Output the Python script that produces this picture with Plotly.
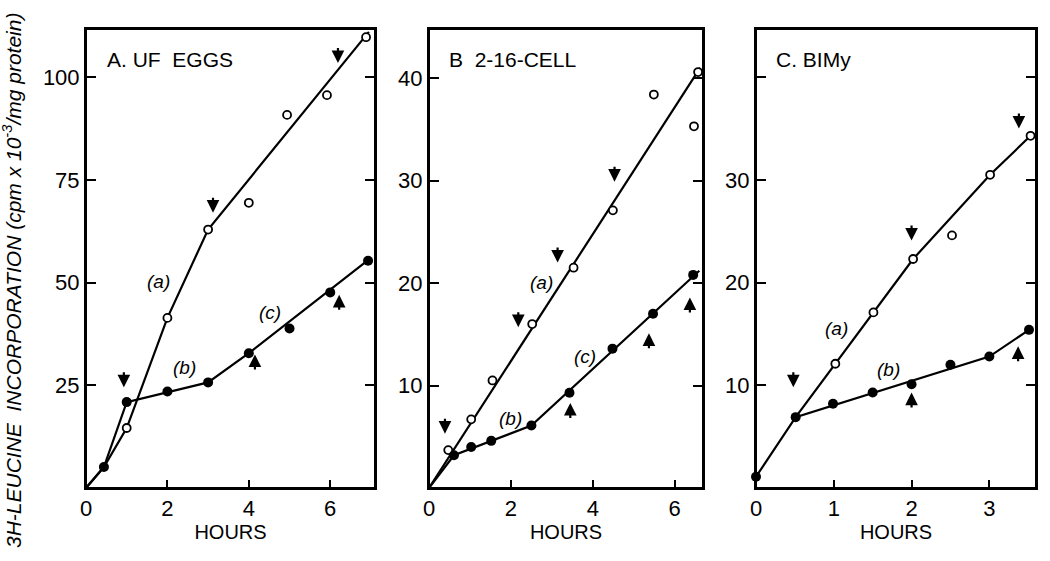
import plotly.graph_objects as go

# ---------------- Panel A: UF eggs ----------------
A_open_x = [1, 2, 3, 4, 4.94, 5.92, 6.88]
A_open_y = [14.6, 41.4, 62.9, 69.4, 90.8, 95.6, 109.7]
A_fill_x = [0.44, 1, 2, 3, 4, 5, 6, 6.93]
A_fill_y = [5.1, 20.9, 23.5, 25.7, 32.8, 38.8, 47.6, 55.3]
A_line_a_x = [0, 0.44, 1, 2, 3, 6.95]
A_line_a_y = [0, 5.1, 14.6, 41.4, 62.9, 111]
A_line_b_x = [0, 0.44, 1, 3, 4, 7.0]
A_line_b_y = [0, 5.1, 20.9, 25.7, 32.8, 56]
A_arrow_x = [0.93, 3.12, 6.19, 4.15, 6.22]
A_arrow_y = [24.5, 67.0, 103.4, 32.5, 47.0]
A_arrow_dir = ["down", "down", "down", "up", "up"]
A_label_x = [1.77, 2.43, 4.52]
A_label_y = [50.2, 29.4, 42.7]
A_labels = ["(a)", "(b)", "(c)"]
A_xticks = [0, 2, 4, 6]
A_yticks = [25, 50, 75, 100]

# ---------------- Panel B: 2-16 cell ----------------
B_open_x = [0.47, 1.03, 1.55, 2.52, 3.53, 4.49, 5.49, 6.47, 6.57]
B_open_y = [3.7, 6.7, 10.5, 16.0, 21.5, 27.1, 38.4, 35.3, 40.6]
B_fill_x = [0.61, 1.03, 1.52, 2.5, 3.43, 4.48, 5.47, 6.45]
B_fill_y = [3.2, 4.0, 4.6, 6.1, 9.3, 13.6, 17.0, 20.8]
B_line_a_x = [0, 6.62]
B_line_a_y = [0, 41.0]
B_line_b_x = [0, 0.61, 2.5, 6.6]
B_line_b_y = [0, 3.2, 6.1, 21.2]
B_arrow_x = [0.39, 2.18, 3.14, 4.53, 3.45, 5.37, 6.37]
B_arrow_y = [5.3, 15.7, 22.0, 29.9, 8.3, 15.1, 18.6]
B_arrow_dir = ["down", "down", "down", "down", "up", "up", "up"]
B_label_x = [2.75, 2.0, 3.8]
B_label_y = [20.1, 6.8, 12.8]
B_labels = ["(a)", "(b)", "(c)"]
B_xticks = [0, 2, 4, 6]
B_yticks = [10, 20, 30, 40]

# ---------------- Panel C: BIMy ----------------
C_open_x = [1.02, 1.51, 2.02, 2.52, 3.01, 3.53]
C_open_y = [12.1, 17.1, 22.3, 24.6, 30.5, 34.3]
C_fill_x = [0, 0.51, 0.99, 1.5, 2.0, 2.5, 3.0, 3.51]
C_fill_y = [1.1, 6.9, 8.2, 9.3, 10.1, 12.0, 12.8, 15.4]
C_line_a_x = [0.51, 1.02, 1.51, 2.02, 3.01, 3.53]
C_line_a_y = [6.9, 12.1, 17.1, 22.3, 30.5, 34.3]
C_line_b_x = [0, 0.51, 3.0, 3.51]
C_line_b_y = [1.1, 6.9, 12.8, 15.4]
C_arrow_x = [0.48, 2.0, 3.38, 2.0, 3.37]
C_arrow_y = [9.8, 24.1, 35.0, 9.3, 13.8]
C_arrow_dir = ["down", "down", "down", "up", "up"]
C_label_x = [1.04, 1.7]
C_label_y = [15.5, 11.5]
C_labels = ["(a)", "(b)"]
C_xticks = [0, 1, 2, 3]
C_yticks = [10, 20, 30, 40]
C_yticktext = ["10", "20", "30", ""]

panel_titles = ["A. UF  EGGS", "B  2-16-CELL", "C. BIMy"]
x_title = "HOURS"
y_title = "3H-LEUCINE  INCORPORATION (cpm x 10<sup>-3</sup>/mg protein)"

FONT = "Liberation Sans"
W, H = 1050, 561


def px_x(v):
    return v / W


def px_y(v):
    return 1 - v / H


panels = [
    dict(ox=A_open_x, oy=A_open_y, fx=A_fill_x, fy=A_fill_y,
         lax=A_line_a_x, lay=A_line_a_y, lbx=A_line_b_x, lby=A_line_b_y,
         arx=A_arrow_x, ary=A_arrow_y, ard=A_arrow_dir,
         lx=A_label_x, ly=A_label_y, lt=A_labels,
         xt=A_xticks, yt=A_yticks, ytt=[str(v) for v in A_yticks],
         xr=[0, 7.1], yr=[0, 111.7], dom=[px_x(86), px_x(375)]),
    dict(ox=B_open_x, oy=B_open_y, fx=B_fill_x, fy=B_fill_y,
         lax=B_line_a_x, lay=B_line_a_y, lbx=B_line_b_x, lby=B_line_b_y,
         arx=B_arrow_x, ary=B_arrow_y, ard=B_arrow_dir,
         lx=B_label_x, ly=B_label_y, lt=B_labels,
         xt=B_xticks, yt=B_yticks, ytt=[str(v) for v in B_yticks],
         xr=[0, 6.69], yr=[0, 44.8], dom=[px_x(429), px_x(703)]),
    dict(ox=C_open_x, oy=C_open_y, fx=C_fill_x, fy=C_fill_y,
         lax=C_line_a_x, lay=C_line_a_y, lbx=C_line_b_x, lby=C_line_b_y,
         arx=C_arrow_x, ary=C_arrow_y, ard=C_arrow_dir,
         lx=C_label_x, ly=C_label_y, lt=C_labels,
         xt=C_xticks, yt=C_yticks, ytt=C_yticktext,
         xr=[0, 3.6], yr=[0, 44.7], dom=[px_x(756), px_x(1036)]),
]

fig = go.Figure()
annotations = []
shapes = []
layout = {}
ydom = [px_y(488), px_y(29)]

for i, p in enumerate(panels):
    n = "" if i == 0 else str(i + 1)
    xa, ya = "x" + n, "y" + n
    # fit lines
    for lx_, ly_ in [(p["lax"], p["lay"]), (p["lbx"], p["lby"])]:
        fig.add_trace(go.Scatter(x=lx_, y=ly_, xaxis=xa, yaxis=ya, mode="lines",
                                 line=dict(color="black", width=2.2),
                                 showlegend=False, hoverinfo="skip"))
    # open circles
    fig.add_trace(go.Scatter(x=p["ox"], y=p["oy"], xaxis=xa, yaxis=ya, mode="markers",
                             marker=dict(symbol="circle", size=8, color="white",
                                         line=dict(color="black", width=1.8)),
                             showlegend=False, cliponaxis=False))
    # filled circles
    fig.add_trace(go.Scatter(x=p["fx"], y=p["fy"], xaxis=xa, yaxis=ya, mode="markers",
                             marker=dict(symbol="circle", size=10, color="black"),
                             showlegend=False, cliponaxis=False))
    layout["xaxis" + n] = dict(
        domain=p["dom"], range=p["xr"], anchor=ya, tickvals=p["xt"],
        ticks="inside", ticklen=8, tickwidth=2, tickcolor="black",
        showline=True, linecolor="black", linewidth=2, mirror=True,
        showgrid=False, zeroline=False, automargin=False,
        tickfont=dict(family=FONT, size=22, color="black"),
        title=dict(text=x_title, font=dict(family=FONT, size=20, color="black"), standoff=2),
    )
    layout["yaxis" + n] = dict(
        domain=ydom, range=p["yr"], anchor=xa, tickvals=p["yt"], ticktext=p["ytt"],
        ticks="inside", ticklen=10, tickwidth=2, tickcolor="black",
        showline=True, linecolor="black", linewidth=2, mirror="ticks",
        showgrid=False, zeroline=False, automargin=False,
        tickfont=dict(family=FONT, size=22, color="black"),
    )
    # panel frame
    shapes.append(dict(type="rect", xref=xa + " domain", yref=ya + " domain",
                       x0=0, x1=1, y0=0, y1=1, line=dict(color="black", width=2),
                       fillcolor="rgba(0,0,0,0)", layer="above"))
    # panel title
    annotations.append(dict(text=panel_titles[i], xref=xa + " domain", yref=ya + " domain",
                            x=0.066, y=0.933, xanchor="left", yanchor="middle", showarrow=False,
                            font=dict(family=FONT, size=21, color="black")))
    # curve labels
    for tx, ty, tt in zip(p["lx"], p["ly"], p["lt"]):
        annotations.append(dict(text="<i>" + tt + "</i>", x=tx, y=ty, xref=xa, yref=ya,
                                showarrow=False, font=dict(family=FONT, size=19, color="black")))
    # arrows (tip at data point, tail offset in pixels)
    for axx, ayy, d in zip(p["arx"], p["ary"], p["ard"]):
        annotations.append(dict(text=" ", x=axx, y=ayy, xref=xa, yref=ya, showarrow=True,
                                ax=0, ay=-16 if d == "down" else 16, standoff=0, startstandoff=0,
                                borderpad=0, font=dict(size=1),
                                arrowhead=2, arrowsize=1.15, arrowwidth=2.2, arrowcolor="black"))

annotations.append(dict(text=y_title, xref="paper", yref="paper", x=px_x(12), y=px_y(281),
                        xanchor="center", yanchor="middle", textangle=-90, showarrow=False,
                        font=dict(family=FONT, size=21, color="black", style="italic")))

fig.update_layout(**layout)
fig.update_layout(width=W, height=H, margin=dict(l=0, r=0, t=0, b=0, autoexpand=False),
                  paper_bgcolor="white", plot_bgcolor="white",
                  annotations=annotations, shapes=shapes, showlegend=False)

fig.write_html("out.html",
               config={"displayModeBar": False},
               post_script="document.body.style.margin='0px';"
                           "document.body.style.overflow='hidden';"
                           "document.documentElement.style.overflow='hidden';")
